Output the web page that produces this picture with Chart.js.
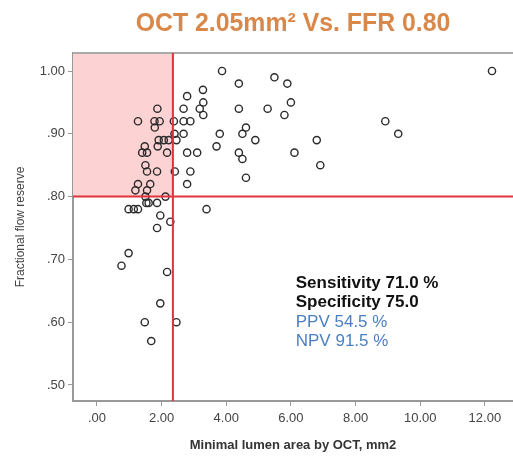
<!DOCTYPE html>
<html>
<head>
    <title>OCT vs FFR</title>
    <script src="https://cdn.jsdelivr.net/npm/chart.js"></script>
    <style>
        body {
            margin: 0;
            background-color: #fff;
        }
        #octChart {
            display: block;
        }
    </style>
</head>
<body>
    <canvas id="octChart" width="513" height="460"></canvas>

    <script>
        // minimal lumen area (mm2) and FFR, one entry per lesion
        var mla = [3.87, 4.39, 5.49, 5.89, 3.28, 2.79, 3.29, 6.00, 2.68, 3.18,
                   4.39, 5.28, 3.29, 5.80, 1.87, 1.27, 1.78, 1.94, 2.38, 2.68,
                   2.89, 1.79, 4.61, 3.80, 4.50, 2.68, 2.40, 1.91, 2.07, 2.22,
                   2.46, 4.90, 6.80, 8.92, 9.32, 12.22, 3.70, 1.88, 1.48, 1.40,
                   1.55, 2.17, 2.79, 3.10, 4.39, 4.50, 6.11, 6.91, 1.50, 1.55,
                   1.86, 2.41, 2.89, 4.61, 2.79, 1.27, 1.65, 1.19, 1.55, 2.12,
                   1.50, 1.53, 1.60, 1.86, 0.98, 1.14, 1.27, 3.39, 1.96, 2.27,
                   1.86, 0.98, 0.76, 2.17, 1.96, 1.48, 2.46, 1.68];
        var ffr = [1.00, 0.98, 0.99, 0.98, 0.97, 0.96, 0.95, 0.95, 0.94, 0.94,
                   0.94, 0.94, 0.93, 0.93, 0.94, 0.92, 0.92, 0.92, 0.92, 0.92,
                   0.92, 0.91, 0.91, 0.90, 0.90, 0.90, 0.90, 0.89, 0.89, 0.89,
                   0.89, 0.89, 0.89, 0.92, 0.90, 1.00, 0.88, 0.88, 0.88, 0.87,
                   0.87, 0.87, 0.87, 0.87, 0.87, 0.86, 0.87, 0.85, 0.85, 0.84,
                   0.84, 0.84, 0.84, 0.83, 0.82, 0.82, 0.82, 0.81, 0.81, 0.80,
                   0.80, 0.79, 0.79, 0.79, 0.78, 0.78, 0.78, 0.78, 0.77, 0.76,
                   0.75, 0.71, 0.69, 0.68, 0.63, 0.60, 0.60, 0.57];

        var xTicks = [0, 2, 4, 6, 8, 10, 12];
        var yTicks = [0.5, 0.6, 0.7, 0.8, 0.9, 1.0];

        var cutMla = 2.35;
        var cutFfr = 0.80;

        var titleText = 'OCT 2.05mm\u00b2 Vs. FFR 0.80';
        var statLines = ['Sensitivity 71.0 %', 'Specificity 75.0', 'PPV 54.5 %', 'NPV 91.5 %'];
        var statBold = [true, true, false, false];
        var statColors = ['#111', '#111', '#4a7fc1', '#4a7fc1'];
        var statAt = { x: 6.15, y: 0.662 };

        var sans = "'Liberation Sans', Arial, sans-serif";

        function fmt(v) {
            return v.toFixed(2).replace(/^0/, '');
        }

        // pink quadrant, cut-off lines, top frame, title and the stats text
        var cutoffPlugin = {
            id: 'cutoffs',
            beforeDatasetsDraw: function(chart) {
                var c = chart.ctx, a = chart.chartArea;
                var xs = chart.scales.x, ys = chart.scales.y;
                var px = xs.getPixelForValue(cutMla);
                var py = ys.getPixelForValue(cutFfr);
                c.save();
                c.fillStyle = '#fdd2d2';
                c.fillRect(a.left, a.top, px - a.left, py - a.top);
                c.strokeStyle = '#aaa';
                c.lineWidth = 2;
                c.beginPath();
                c.moveTo(a.left, a.top);
                c.lineTo(a.right, a.top);
                c.stroke();
                c.restore();
            },
            afterDatasetsDraw: function(chart) {
                var c = chart.ctx, a = chart.chartArea;
                var xs = chart.scales.x, ys = chart.scales.y;
                var px = xs.getPixelForValue(cutMla);
                var py = ys.getPixelForValue(cutFfr);
                c.save();
                c.strokeStyle = '#e2323c';
                c.lineWidth = 2;
                c.beginPath();
                c.moveTo(px, a.top);
                c.lineTo(px, a.bottom);
                c.moveTo(a.left, py);
                c.lineTo(a.right, py);
                c.stroke();

                var tx = xs.getPixelForValue(statAt.x);
                var ty = ys.getPixelForValue(statAt.y);
                c.textBaseline = 'middle';
                c.textAlign = 'left';
                statLines.forEach(function(s, i) {
                    c.font = (statBold[i] ? 'bold ' : '') + '17px ' + sans;
                    c.fillStyle = statColors[i];
                    c.fillText(s, tx, ty + i * 19.5);
                });

                // title centred over the plot area, slightly condensed
                c.font = 'bold 26px ' + sans;
                c.fillStyle = '#d9884a';
                c.textAlign = 'center';
                c.translate((a.left + a.right) / 2, 24);
                c.scale(0.955, 1);
                c.fillText(titleText, 0, 0);
                c.restore();
            }
        };

        var ctx = document.getElementById('octChart').getContext('2d');
        var octChart = new Chart(ctx, {
            type: 'scatter',
            data: {
                datasets: [{
                    data: mla.map(function(v, i) { return { x: v, y: ffr[i] }; }),
                    pointRadius: 3.6,
                    pointHoverRadius: 3.6,
                    borderWidth: 1.4,
                    borderColor: '#2b2b2b',
                    backgroundColor: 'rgba(0,0,0,0)'
                }]
            },
            options: {
                responsive: false,
                animation: false,
                layout: { autoPadding: false, padding: { top: 53, left: 0, right: 0, bottom: 0 } },
                plugins: {
                    legend: { display: false },
                    tooltip: { enabled: false },
                    title: { display: false }
                },
                scales: {
                    x: {
                        type: 'linear',
                        min: -0.74,
                        max: 12.87,
                        afterBuildTicks: function(s) {
                            s.ticks = xTicks.map(function(v) { return { value: v }; });
                        },
                        afterFit: function(s) {
                            s.height = 59;
                            s.paddingLeft = 0;
                            s.paddingRight = 0;
                        },
                        border: { color: '#999', width: 2 },
                        grid: { drawOnChartArea: false, tickLength: 5, color: '#999' },
                        ticks: {
                            color: '#444',
                            padding: 5,
                            font: { family: sans, size: 13 },
                            callback: function(v) { return fmt(v); }
                        },
                        title: {
                            display: true,
                            text: 'Minimal lumen area by OCT, mm2',
                            color: '#333',
                            font: { family: sans, size: 13, weight: 'bold' },
                            padding: { top: 0, bottom: 7 }
                        }
                    },
                    y: {
                        type: 'linear',
                        min: 0.4745,
                        max: 1.0287,
                        afterBuildTicks: function(s) {
                            s.ticks = yTicks.map(function(v) { return { value: v }; });
                        },
                        afterFit: function(s) {
                            s.width = 73;
                            s.paddingTop = 0;
                            s.paddingBottom = 0;
                        },
                        border: { color: '#999', width: 2 },
                        grid: { drawOnChartArea: false, tickLength: 5, color: '#999' },
                        ticks: {
                            color: '#444',
                            padding: 3,
                            font: { family: sans, size: 13 },
                            callback: function(v) { return fmt(v); }
                        },
                        title: {
                            display: true,
                            text: 'Fractional flow reserve',
                            color: '#444',
                            font: { family: sans, size: 12 },
                            padding: { top: 13, bottom: 0 }
                        }
                    }
                }
            },
            plugins: [cutoffPlugin]
        });
    </script>
</body>
</html>
